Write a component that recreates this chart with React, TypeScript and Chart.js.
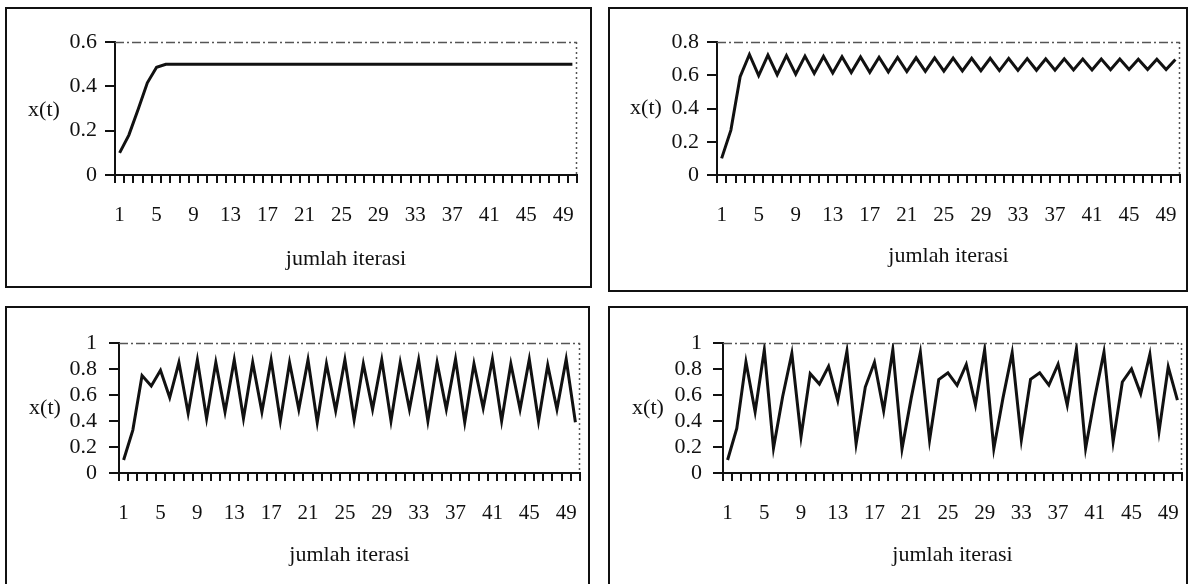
import React, { useEffect, useRef } from "react";
import { Chart, registerables } from "chart.js";

Chart.register(...registerables);

const CATEGORIES = [
  "1", "2", "3", "4", "5", "6", "7", "8", "9", "10",
  "11", "12", "13", "14", "15", "16", "17", "18", "19", "20",
  "21", "22", "23", "24", "25", "26", "27", "28", "29", "30",
  "31", "32", "33", "34", "35", "36", "37", "38", "39", "40",
  "41", "42", "43", "44", "45", "46", "47", "48", "49", "50",
];

const VALUES_TOP_LEFT = [
  0.1, 0.18, 0.295, 0.416, 0.486, 0.4996, 0.5, 0.5, 0.5, 0.5,
  0.5, 0.5, 0.5, 0.5, 0.5, 0.5, 0.5, 0.5, 0.5, 0.5,
  0.5, 0.5, 0.5, 0.5, 0.5, 0.5, 0.5, 0.5, 0.5, 0.5,
  0.5, 0.5, 0.5, 0.5, 0.5, 0.5, 0.5, 0.5, 0.5, 0.5,
  0.5, 0.5, 0.5, 0.5, 0.5, 0.5, 0.5, 0.5, 0.5, 0.5,
];

const VALUES_TOP_RIGHT = [
  0.1, 0.27, 0.591, 0.725, 0.598, 0.721, 0.603, 0.718, 0.607, 0.715,
  0.611, 0.713, 0.614, 0.711, 0.616, 0.71, 0.618, 0.708, 0.62, 0.707,
  0.622, 0.705, 0.623, 0.704, 0.625, 0.703, 0.626, 0.702, 0.627, 0.702,
  0.628, 0.701, 0.629, 0.7, 0.63, 0.699, 0.631, 0.699, 0.632, 0.698,
  0.632, 0.697, 0.633, 0.697, 0.634, 0.696, 0.634, 0.696, 0.635, 0.695,
];

const VALUES_BOTTOM_LEFT = [
  0.1, 0.33, 0.75, 0.67, 0.79, 0.58, 0.85, 0.46, 0.87, 0.42,
  0.85, 0.47, 0.87, 0.42, 0.85, 0.47, 0.87, 0.4, 0.85, 0.49,
  0.87, 0.39, 0.84, 0.48, 0.87, 0.41, 0.84, 0.49, 0.87, 0.4,
  0.85, 0.49, 0.87, 0.4, 0.85, 0.49, 0.875, 0.39, 0.84, 0.5,
  0.875, 0.4, 0.84, 0.49, 0.875, 0.4, 0.83, 0.49, 0.875, 0.39,
];

const VALUES_BOTTOM_RIGHT = [
  0.1, 0.342, 0.855, 0.471, 0.947, 0.192, 0.589, 0.92, 0.279, 0.764,
  0.684, 0.821, 0.558, 0.937, 0.224, 0.661, 0.852, 0.479, 0.948, 0.186,
  0.576, 0.928, 0.253, 0.718, 0.77, 0.674, 0.835, 0.523, 0.948, 0.187,
  0.578, 0.925, 0.255, 0.72, 0.77, 0.676, 0.837, 0.523, 0.955, 0.19,
  0.58, 0.93, 0.24, 0.7, 0.8, 0.61, 0.913, 0.32, 0.816, 0.56,
];

const Y_MAX_VALUES = [0.6, 0.8, 1, 1];
const Y_STEP = 0.2;
const X_TITLE = "jumlah iterasi";
const Y_TITLE = "x(t)";

const FONT = '"Liberation Serif", "Times New Roman", Times, serif';
const INK = "#111";

type Geom = {
  L: number; T: number; W: number; H: number;
  plotL: number; plotR: number; plotT: number; plotB: number;
  yPad: number; yTitleX: number; yTitleY: number; xTitleY: number;
};

const GEOMS: Geom[] = [
  { L: 5, T: 7, W: 587, H: 281, plotL: 115, plotR: 577, plotT: 42, plotB: 175, yPad: 8, yTitleX: 44, yTitleY: 110, xTitleY: 259 },
  { L: 608, T: 7, W: 580, H: 285, plotL: 717, plotR: 1180, plotT: 42, plotB: 175, yPad: 8, yTitleX: 646, yTitleY: 108, xTitleY: 256 },
  { L: 5, T: 306, W: 585, H: 300, plotL: 119, plotR: 580, plotT: 343, plotB: 473, yPad: 12, yTitleX: 45, yTitleY: 408, xTitleY: 555 },
  { L: 608, T: 306, W: 580, H: 300, plotL: 723, plotR: 1182, plotT: 343, plotB: 473, yPad: 11, yTitleX: 648, yTitleY: 408, xTitleY: 555 },
];

const SERIES = [VALUES_TOP_LEFT, VALUES_TOP_RIGHT, VALUES_BOTTOM_LEFT, VALUES_BOTTOM_RIGHT];

function Panel({ values, yMax, g }: { values: number[]; yMax: number; g: Geom }) {
  const ref = useRef<HTMLCanvasElement>(null);
  const cw = g.W - 4;
  const ch = g.H - 4;

  useEffect(() => {
    if (!ref.current) return;
    const ox = g.L + 2;
    const oy = g.T + 2;
    const left = g.plotL - ox;
    const right = g.plotR - ox;
    const top = g.plotT - oy;
    const bottom = g.plotB - oy;

    const deco = {
      id: "deco",
      afterDraw(chart: any) {
        const { ctx, chartArea: a } = chart;
        ctx.save();
        ctx.strokeStyle = "#555";
        ctx.lineWidth = 1.5;
        ctx.setLineDash([9, 3, 2, 3]);
        ctx.beginPath();
        ctx.moveTo(a.left, a.top + 0.5);
        ctx.lineTo(a.right, a.top + 0.5);
        ctx.stroke();
        ctx.setLineDash([2, 3]);
        ctx.beginPath();
        ctx.moveTo(a.right - 0.5, a.top);
        ctx.lineTo(a.right - 0.5, a.bottom);
        ctx.stroke();
        ctx.setLineDash([]);
        ctx.fillStyle = INK;
        ctx.font = `22px ${FONT}`;
        ctx.textAlign = "center";
        ctx.textBaseline = "middle";
        ctx.fillText(Y_TITLE, g.yTitleX - ox, g.yTitleY - oy);
        ctx.fillText(X_TITLE, (a.left + a.right) / 2, g.xTitleY - oy);
        ctx.restore();
      },
    };

    const chart = new Chart(ref.current, {
      type: "line",
      data: {
        labels: CATEGORIES,
        datasets: [
          {
            data: values,
            borderColor: INK,
            borderWidth: 3,
            pointRadius: 0,
            tension: 0,
            fill: false,
          },
        ],
      },
      options: {
        animation: false,
        responsive: false,
        maintainAspectRatio: false,
        layout: { padding: { left: 0, top: top, right: cw - right, bottom: 0 } },
        plugins: { legend: { display: false }, tooltip: { enabled: false } },
        scales: {
          x: {
            type: "category",
            offset: true,
            grid: {
              display: true,
              offset: true,
              drawOnChartArea: false,
              drawTicks: true,
              tickLength: 8,
              lineWidth: 2,
              color: INK,
            },
            border: { display: true, color: INK, width: 2 },
            ticks: {
              autoSkip: false,
              maxRotation: 0,
              minRotation: 0,
              padding: 20,
              color: INK,
              font: { family: FONT, size: 21 },
              callback: (_v: any, i: number) => (i % 4 === 0 ? CATEGORIES[i] : ""),
            },
            afterFit: (s: any) => {
              s.height = ch - bottom;
              s.paddingLeft = 0;
              s.paddingRight = 0;
            },
          },
          y: {
            min: 0,
            max: yMax,
            ticks: {
              stepSize: Y_STEP,
              autoSkip: false,
              padding: g.yPad,
              color: INK,
              font: { family: FONT, size: 22 },
              callback: (v: any) => String(Math.round(Number(v) * 10) / 10),
            },
            grid: {
              drawOnChartArea: false,
              drawTicks: true,
              tickLength: 10,
              lineWidth: 2,
              color: INK,
            },
            border: { display: true, color: INK, width: 2 },
            afterFit: (s: any) => {
              s.width = left;
              s.paddingTop = 0;
              s.paddingBottom = 0;
            },
          },
        },
      },
      plugins: [deco],
    } as any);
    return () => chart.destroy();
  }, [values, yMax, g, cw, ch]);

  return (
    <div
      style={{
        position: "absolute",
        left: g.L,
        top: g.T,
        width: g.W,
        height: g.H,
        boxSizing: "border-box",
        border: `2px solid ${INK}`,
        background: "#fff",
      }}
    >
      <canvas
        ref={ref}
        width={cw}
        height={ch}
        style={{ position: "absolute", left: 0, top: 0, width: cw, height: ch, display: "block" }}
      />
    </div>
  );
}

export default function App() {
  return (
    <div
      style={{
        position: "fixed",
        left: 0,
        top: 0,
        width: 1191,
        height: 584,
        overflow: "hidden",
        background: "#fff",
      }}
    >
      {GEOMS.map((g, i) => (
        <Panel key={i} values={SERIES[i]} yMax={Y_MAX_VALUES[i]} g={g} />
      ))}
    </div>
  );
}
